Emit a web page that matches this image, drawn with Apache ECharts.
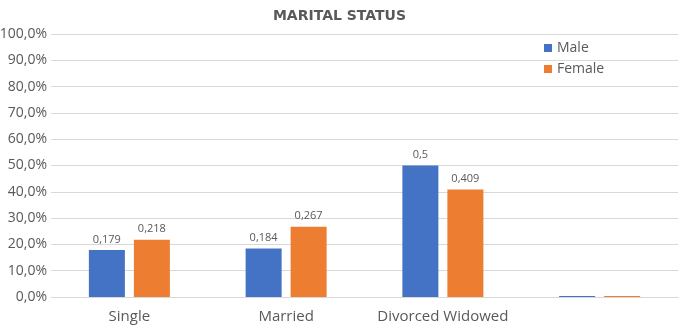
<!DOCTYPE html>
<html>
<head>
<meta charset="utf-8">
<script src="https://cdn.jsdelivr.net/npm/echarts@6/dist/echarts.min.js"></script>
<style>
  html, body { margin: 0; padding: 0; background: #fff; }
  #main { width: 679px; height: 326px; }
</style>
</head>
<body>
<div id="main"></div>
<script>
var categories = ['Single', 'Married', 'Divorced Widowed', ''];
var maleValues = [0.179, 0.184, 0.5, 0];
var femaleValues = [0.218, 0.267, 0.409, 0];
var yTicks = [0, 0.1, 0.2, 0.3, 0.4, 0.5, 0.6, 0.7, 0.8, 0.9, 1];

// 0.179 -> "0,179"
function commaNum(v) {
  return String(v).replace('.', ',');
}

var chart = echarts.init(document.getElementById('main'));

var labelOpt = {
  show: true,
  position: 'top',
  distance: 5,
  color: '#595959',
  fontSize: 11,
  fontFamily: 'Open Sans',
  formatter: function (p) {
    return p.value ? commaNum(p.value) : '';
  }
};

var option = {
  animation: false,
  textStyle: { fontFamily: 'Open Sans' },
  title: {
    text: 'MARITAL STATUS',
    left: 'center',
    top: 4,
    textStyle: { fontSize: 14, fontWeight: 'bold', color: '#595959', fontFamily: 'DejaVu Sans' }
  },
  legend: {
    orient: 'vertical',
    left: 539,
    top: 36,
    itemWidth: 8,
    itemHeight: 8,
    itemGap: 7,
    icon: 'rect',
    textStyle: { color: '#595959', fontSize: 14 },
    data: ['Male', 'Female']
  },
  grid: { left: 51, right: 1, top: 34, bottom: 29, containLabel: false, outerBoundsMode: 'none' },
  xAxis: {
    type: 'category',
    data: categories,
    axisTick: { show: false },
    axisLine: { lineStyle: { color: '#d9d9d9' } },
    axisLabel: { color: '#595959', fontSize: 15, margin: 12, interval: 0 }
  },
  yAxis: {
    type: 'value',
    min: yTicks[0],
    max: yTicks[yTicks.length - 1],
    interval: 0.1,
    axisLine: { show: false },
    axisTick: { show: false },
    splitLine: { lineStyle: { color: '#d9d9d9' } },
    axisLabel: {
      color: '#595959',
      fontSize: 14,
      margin: 4,
      formatter: function (v) {
        return (v * 100).toFixed(1).replace('.', ',') + '%';
      }
    }
  },
  series: [
    {
      name: 'Male',
      type: 'bar',
      data: maleValues,
      barWidth: 36,
      barGap: '25%',
      barMinHeight: 1,
      itemStyle: { color: '#4472C4' },
      label: labelOpt
    },
    {
      name: 'Female',
      type: 'bar',
      data: femaleValues,
      barWidth: 36,
      barMinHeight: 1,
      itemStyle: { color: '#ED7D31' },
      label: labelOpt
    }
  ]
};

chart.setOption(option);
</script>
</body>
</html>
